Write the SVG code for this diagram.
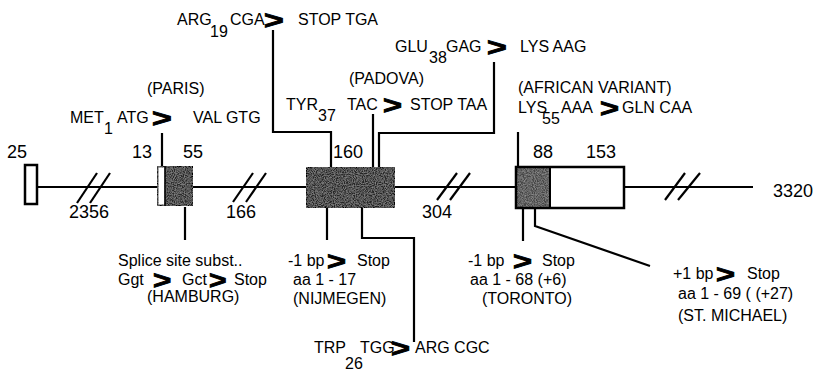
<svg xmlns="http://www.w3.org/2000/svg" width="817" height="374" viewBox="0 0 817 374">
<style>
text{font-family:"Liberation Sans",Arial,Helvetica,sans-serif;font-size:16px;fill:#000}
.n{font-size:18px}
.chev{font-size:25px;font-weight:bold;stroke:#000;stroke-width:0.9}
.ln{fill:none;stroke:#000;stroke-width:2.2}
.box{stroke:#000;stroke-width:2.5}
</style>
<defs>
<filter id="stip" x="0" y="0" width="1" height="1">
<feTurbulence type="fractalNoise" baseFrequency="0.9" numOctaves="2" seed="3" result="t"/>
<feColorMatrix in="t" type="matrix" values="0 0 0 0 1  0 0 0 0 1  0 0 0 0 1  0 0 0 0.45 -0.15" result="w"/>
<feComposite in="w" in2="SourceGraphic" operator="in" result="wm"/>
<feMerge><feMergeNode in="SourceGraphic"/><feMergeNode in="wm"/></feMerge>
</filter>
</defs>
<rect width="817" height="374" fill="#fff"/>

<g id="connectors">
<polyline class="ln" points="37,187 157,187"/>
<polyline class="ln" points="193,187 306,187"/>
<polyline class="ln" points="395,187 516,187"/>
<polyline class="ln" points="624,187 753,187"/>
<g id="breaks" class="ln">
<line x1="77" y1="203" x2="97" y2="173"/><line x1="90" y1="203" x2="110" y2="173"/>
<line x1="233" y1="202" x2="253" y2="173"/><line x1="246" y1="202" x2="266" y2="173"/>
<line x1="437" y1="200" x2="457" y2="173"/><line x1="450" y1="200" x2="470" y2="173"/>
<line x1="665" y1="200" x2="685" y2="173"/><line x1="678" y1="200" x2="700" y2="173"/>
</g>
<polyline class="ln" points="162,133 162,166"/>
<polyline class="ln" points="273,30 273,132 331,132 331,167"/>
<polyline class="ln" points="373,114 373,167"/>
<polyline class="ln" points="494,62 494,133 379,133 379,167"/>
<polyline class="ln" points="518,132 518,167"/>
<polyline class="ln" points="185,207 185,240"/>
<polyline class="ln" points="327,208 327,240"/>
<polyline class="ln" points="362,208 362,238 414,238 414,342"/>
<polyline class="ln" points="523,208 523,241"/>
<polyline class="ln" points="535,208 535,226 650,266"/>
</g>

<g id="exon1">
<rect class="box" x="25" y="165" width="12" height="39" fill="#fff"/>
<text class="n" x="7" y="158">25</text>
</g>
<g id="intron1"><text class="n" x="69" y="218">2356</text></g>
<g id="exon2">
<rect class="box" x="157" y="166" width="36" height="40" fill="#2a2a2a" filter="url(#stip)"/>
<rect x="158.5" y="167.5" width="6" height="37" fill="#fff"/>
<line x1="165" y1="166" x2="165" y2="206" stroke="#000" stroke-width="1.5"/>
<text class="n" x="132" y="158">13</text>
<text class="n" x="183" y="158">55</text>
</g>
<g id="intron2"><text class="n" x="226" y="218">166</text></g>
<g id="exon3">
<rect class="box" x="306" y="167" width="89" height="41" fill="#262626" filter="url(#stip)"/>
<text class="n" x="333" y="158">160</text>
</g>
<g id="intron3"><text class="n" x="422" y="218">304</text></g>
<g id="exon4">
<rect x="516" y="167" width="34" height="41" fill="#444" filter="url(#stip)"/>
<rect class="box" x="516" y="167" width="108" height="41" fill="none"/>
<line x1="550" y1="167" x2="550" y2="208" stroke="#000" stroke-width="2"/>
<text class="n" x="533" y="158">88</text>
<text class="n" x="586" y="158">153</text>
</g>
<g id="end"><text class="n" x="773" y="197">3320</text></g>

<g id="arg19">
<text x="177" y="25">ARG</text><text x="210" y="37">19</text><text x="230" y="25">CGA</text>
<text class="chev" transform="translate(264,29) scale(1.35,1)">&gt;</text>
<text x="298" y="25">STOP TGA</text>
</g>
<g id="paris">
<text x="147" y="94">(PARIS)</text>
<text x="70" y="123">MET</text><text x="104" y="134">1</text><text x="117" y="123">ATG</text>
<text class="chev" transform="translate(152,127) scale(1.35,1)">&gt;</text>
<text x="193" y="123">VAL GTG</text>
</g>
<g id="glu38">
<text x="395" y="52">GLU</text><text x="429" y="63">38</text><text x="446" y="52">GAG</text>
<text class="chev" transform="translate(487,56) scale(1.35,1)">&gt;</text>
<text x="520" y="52">LYS  AAG</text>
</g>
<g id="padova">
<text x="349" y="84">(PADOVA)</text>
<text x="286" y="110">TYR</text><text x="318" y="121">37</text><text x="347" y="110">TAC</text>
<text class="chev" transform="translate(383,114) scale(1.3,1)">&gt;</text>
<text x="410" y="110">STOP TAA</text>
</g>
<g id="african">
<text x="518" y="93">(AFRICAN VARIANT)</text>
<text x="518" y="113">LYS</text><text x="542" y="124">55</text><text x="561" y="113">AAA</text>
<text class="chev" transform="translate(600,117) scale(1.3,1)">&gt;</text>
<text x="622" y="113">GLN CAA</text>
</g>
<g id="hamburg">
<text x="118" y="266">Splice site subst..</text>
<text x="118" y="285">Ggt</text>
<text class="chev" transform="translate(153,289) scale(1.25,1)">&gt;</text>
<text x="182" y="285">Gct</text>
<text class="chev" transform="translate(209,289) scale(1.2,1)">&gt;</text>
<text x="234" y="285">Stop</text>
<text x="147" y="302">(HAMBURG)</text>
</g>
<g id="nijmegen">
<text x="288" y="266">-1 bp</text>
<text class="chev" transform="translate(327,270) scale(1.3,1)">&gt;</text>
<text x="357" y="266">Stop</text>
<text x="293" y="285">aa 1 - 17</text>
<text x="293" y="304">(NIJMEGEN)</text>
</g>
<g id="trp26">
<text x="314" y="353">TRP</text><text x="345" y="369">26</text><text x="360" y="353">TGG</text>
<text class="chev" transform="translate(391,357) scale(1.3,1)">&gt;</text>
<text x="415" y="353">ARG CGC</text>
</g>
<g id="toronto">
<text x="468" y="266">-1 bp</text>
<text class="chev" transform="translate(513,270) scale(1.3,1)">&gt;</text>
<text x="542" y="266">Stop</text>
<text x="470" y="285">aa 1 - 68 (+6)</text>
<text x="482" y="304">(TORONTO)</text>
</g>
<g id="stmichael">
<text x="673" y="279">+1 bp</text>
<text class="chev" transform="translate(716,283) scale(1.3,1)">&gt;</text>
<text x="747" y="279">Stop</text>
<text x="678" y="299">aa 1 - 69 ( (+27)</text>
<text x="678" y="321">(ST. MICHAEL)</text>
</g>
</svg>
